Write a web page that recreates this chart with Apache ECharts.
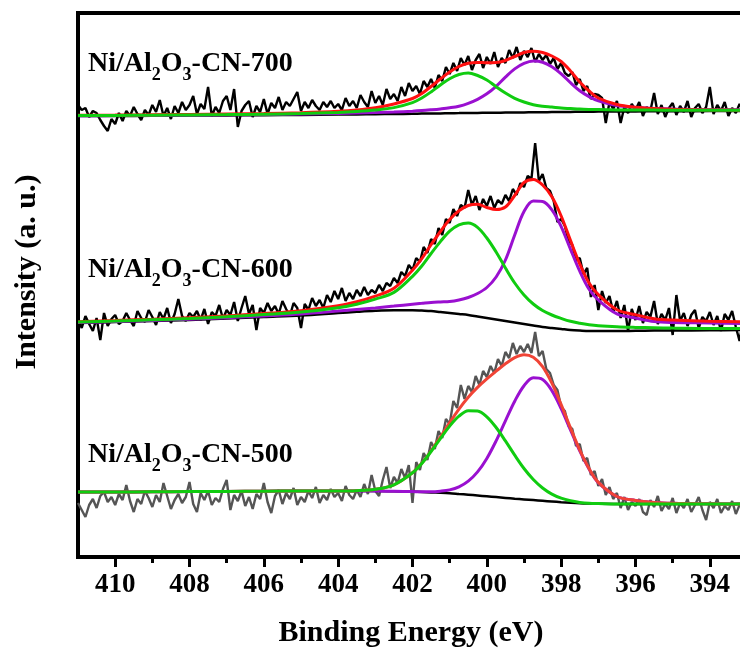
<!DOCTYPE html>
<html><head><meta charset="utf-8">
<script src="https://cdn.jsdelivr.net/npm/echarts@6/dist/echarts.min.js"></script>
<style>html,body{margin:0;padding:0;background:#fff}#c{width:740px;height:657px}</style>
</head><body><div id="c"></div>
<script>
// Binding energy grid of the measured spectra (eV)
const rawE = [411.0,410.9,410.8,410.7,410.6,410.5,410.4,410.3,410.2,410.1,410.0,
409.9,409.8,409.7,409.6,409.5,409.4,409.3,409.2,409.1,409.0,
408.9,408.8,408.7,408.6,408.5,408.4,408.3,408.2,408.1,408.0,
407.9,407.8,407.7,407.6,407.5,407.4,407.3,407.2,407.1,407.0,
406.9,406.8,406.7,406.6,406.5,406.4,406.3,406.2,406.1,406.0,
405.9,405.8,405.7,405.6,405.5,405.4,405.3,405.2,405.1,405.0,
404.9,404.8,404.7,404.6,404.5,404.4,404.3,404.2,404.1,404.0,
403.9,403.8,403.7,403.6,403.5,403.4,403.3,403.2,403.1,403.0,
402.9,402.8,402.7,402.6,402.5,402.4,402.3,402.2,402.1,402.0,
401.9,401.8,401.7,401.6,401.5,401.4,401.3,401.2,401.1,401.0,
400.9,400.8,400.7,400.6,400.5,400.4,400.3,400.2,400.1,400.0,
399.9,399.8,399.7,399.6,399.5,399.4,399.3,399.2,399.1,399.0,
398.9,398.8,398.7,398.6,398.5,398.4,398.3,398.2,398.1,398.0,
397.9,397.8,397.7,397.6,397.5,397.4,397.3,397.2,397.1,397.0,
396.9,396.8,396.7,396.6,396.5,396.4,396.3,396.2,396.1,396.0,
395.9,395.8,395.7,395.6,395.5,395.4,395.3,395.2,395.1,395.0,
394.9,394.8,394.7,394.6,394.5,394.4,394.3,394.2,394.1,394.0,
393.9,393.8,393.7,393.6,393.5,393.4,393.3,393.2,393.1,393.0];

// Measured intensities (stacked, arbitrary units)
const raw700 = [452,447,449,440,446,444,437,431,426,438,433,
444,436,446,441,450,443,437,447,442,452,
445,457,441,449,438,451,444,455,447,452,
461,443,453,448,470,441,450,444,456,461,
447,468,430,446,452,456,440,451,445,458,
443,454,449,460,447,455,451,458,465,446,
455,449,457,451,447,455,450,456,449,453,
447,459,451,456,449,462,455,450,466,454,
461,452,468,458,463,456,470,461,474,466,
471,463,476,470,478,469,482,476,490,483,
494,486,499,492,501,487,497,503,489,500,
493,505,490,499,494,507,499,510,497,506,
500,509,495,503,497,502,493,499,488,494,
484,481,485,472,478,466,471,458,463,462,
459,434,455,448,456,434,450,444,453,447,
455,441,450,446,464,443,452,440,449,454,
442,451,445,456,440,449,453,444,450,470,
443,452,446,455,441,449,444,453,447,450];

const raw600 = [238,229,241,233,226,239,217,244,231,238,242,
233,236,244,237,231,246,239,235,247,240,
232,245,238,249,234,243,258,241,236,244,
240,246,237,248,233,245,241,252,238,247,
242,255,236,249,261,243,252,227,249,244,
254,246,251,243,256,248,241,254,249,229,
253,247,259,251,257,249,262,255,266,258,
269,256,264,258,267,261,270,262,267,264,
272,266,274,271,279,274,285,281,292,287,
299,295,310,304,318,313,329,322,338,334,
348,341,352,349,367,352,361,347,358,351,
361,349,357,353,362,356,368,362,374,370,
381,378,414,376,383,369,366,356,335,338,
331,316,312,297,299,283,289,260,272,247,
266,254,261,245,256,239,252,226,248,237,
251,234,245,240,256,233,243,237,249,222,
262,236,244,231,242,247,229,240,236,245,
232,241,226,243,237,246,230,216,239,235];

const raw500 = [54,47,40,52,58,49,61,65,55,60,52,
63,57,72,56,45,58,53,66,59,50,
62,55,74,61,48,57,63,54,60,75,
53,45,64,57,66,52,59,55,68,77,
47,62,56,66,51,60,48,63,58,74,
55,44,61,67,53,64,58,69,52,60,
55,66,59,70,54,62,57,68,60,64,
56,71,62,58,67,60,73,63,82,66,
61,77,90,69,80,74,88,79,92,54,
95,87,104,97,115,108,126,119,138,133,
156,149,172,158,171,165,181,172,186,180,
191,184,198,191,205,199,214,203,211,205,
213,204,225,201,206,188,184,172,167,150,
146,131,128,111,113,96,99,82,86,71,
78,62,70,58,64,49,60,47,55,51,
58,45,42,57,50,61,46,53,48,59,
44,54,49,58,45,52,60,47,37,55,
49,58,44,51,47,56,43,52,48,54];

// Fitted curves, sampled on this energy grid (eV)
const fitE = [411,410,409,408,407,406,405,404,403.5,403,402.5,402,401.75,401.5,401.25,401,
400.75,400.5,400.25,400,399.75,399.5,399.25,399,398.75,398.5,398.25,398,397.75,397.5,397.25,397,
396.5,396,395.5,395,394,393];

const bg700 = [441,441,441.2,441.4,441.6,441.8,442,442.4,442.6,442.8,443,443.2,443.4,443.5,443.6,443.8,
443.9,444,444.1,444.2,444.3,444.4,444.5,444.6,444.7,444.8,444.9,445,445.1,445.2,445.3,445.4,
445.5,445.6,445.7,445.8,445.9,446];
const green700 = [441.4,441.5,441.8,442.1,442.4,442.8,443.4,444.5,445.5,447,449.4,454.4,459,465.1,472,478.2,
482.5,484,481.5,477,470.3,464,458.7,455,452.3,450.8,449.9,448.9,448.4,447.9,447.6,447.4,
447.1,447,446.9,446.8,446.7,446.7];
const purple700 = [441.3,441.4,441.6,441.9,442.2,442.5,442.9,443.6,444,444.4,445,445.8,446.4,447.2,448.1,449.2,
450.8,453.7,457.7,463.2,470.7,479.8,488.1,493.6,496,494.8,490.3,483.2,474.3,466.2,460.4,456.2,
451.4,449.6,448.5,447.9,447.3,447.1];
const sum700 = [441.7,441.9,442.2,442.6,443,443.5,444.3,445.7,447,449.2,453,458.5,463.5,470.5,478,485,
490.5,493.8,494.6,494.2,494.4,496.5,500.5,504.5,505.8,504.5,501,495.5,486,475,466,459,
452.5,449.7,448.4,447.7,447.1,446.8];

const bg600 = [234,235,236,237,238.5,240,241.5,244,245.2,246.2,246.7,246.7,246.4,246,245,244,
243,242,240.5,239,237.5,236,234.5,233,231.5,230,229,228,227,226.4,226,226,
226,226.2,226.4,226.5,226.7,227];
const green600 = [234.9,236,237.2,238.5,240.2,242.4,244.9,249.3,252.8,257.9,264.6,280.7,291,303.5,315.4,325.9,
332.2,334,329.7,319,305,289,274,262,253,246.5,242,238.6,235.7,233.8,232.3,231.3,
230.2,229.6,229.2,228.9,228.5,228.5];
const purple600 = [234.4,235.5,236.6,237.8,239.3,241,242.9,245.9,247.6,249.1,250.9,252.8,253.7,254.6,255.1,255.5,
257,259.5,263.5,269.5,280,297,322,345.5,356,355.5,347.2,330.4,307.9,285.8,267.7,257,
243.1,239,235.5,234.5,234,233.5];
const sum600 = [235.3,236.5,237.8,239.3,241,243.4,246.3,251.2,255.2,260.8,268.7,286.8,298.3,312.3,325.5,337.4,
346.2,351.5,352.7,349.5,347.5,350,361.5,374.5,377.5,372,360.2,341,316.6,293.2,274,262.3,
247.3,242.4,238.3,236.9,235.8,235];

const bg500 = [65,65,65.2,65.4,65.6,65.8,66,66,66,66,65.7,65.3,65,64.6,64.2,63.7,
63,62.3,61.5,60.7,59.9,59.1,58.3,57.6,56.9,56.2,55.5,54.8,54.2,53.7,53.4,53.2,
53,53,53,53,53,53];
const green500 = [65,65,65.2,65.4,65.6,65.8,66,66,66.3,67.7,72.2,84.2,93.6,105.5,118.4,130.9,
140.8,146.3,146,140.2,129.5,116.1,101.8,88.5,77.5,69,62.9,58.8,56.2,54.6,53.7,53.4,
53,53,53,53,53,53];
const purple500 = [65,65,65.2,65.4,65.6,65.8,66,66,66,66,65.7,65.4,65.2,65.2,65.8,67.1,
70.1,75.8,85.1,98.6,116.2,136.2,155.8,171.3,179.2,177.5,166.4,148.4,127.1,106.1,88.1,74.4,
60.5,56.5,54.5,53.7,53.2,53];
const sum500 = [65,65,65.2,65.4,65.6,65.8,66,66,66.3,67.7,72.2,84.3,93.8,106.1,120,134.3,
147.9,159.8,169.6,178.1,185.8,193.2,199.3,202.2,199.8,190.3,173.8,152.4,129.1,107,88.4,74.6,
60.5,56.5,54.5,53.7,53.2,53];

// Axis ticks and sample labels
const majorTicks = [394,396,398,400,402,404,406,408,410];
const minorTicks = [395,397,399,401,403,405,407,409];
const sampleNames = ['700','600','500'];

const FONT = '"Liberation Serif","Times New Roman",serif';
function pairs(xs, ys){ return xs.map((x,i)=>[x, ys[i]]); }
function mk(name, xs, ys, color, width, smooth){
  return {name, type:'line', data:pairs(xs, ys), symbol:'none', showSymbol:false,
    smooth: smooth ? 0.35 : false, animation:false, silent:true,
    lineStyle:{color, width}, itemStyle:{color}};
}
const GREEN = '#10cc10', PURPLE = '#9a10d0', RED = '#ff1010';
const series = [
  mk('raw700', rawE, raw700, '#000', 2.4, false),
  mk('bg700', fitE, bg700, '#000', 2.5, true),
  mk('p700', fitE, purple700, PURPLE, 3, true),
  mk('s700', fitE, sum700, RED, 3, true),
  mk('g700', fitE, green700, GREEN, 3, true),
  mk('raw600', rawE, raw600, '#000', 2.4, false),
  mk('bg600', fitE, bg600, '#000', 2.5, true),
  mk('p600', fitE, purple600, PURPLE, 3, true),
  mk('s600', fitE, sum600, RED, 3, true),
  mk('g600', fitE, green600, GREEN, 3, true),
  mk('raw500', rawE, raw500, '#555', 2.4, false),
  mk('bg500', fitE, bg500, '#000', 2.5, true),
  mk('p500', fitE, purple500, PURPLE, 3, true),
  mk('s500', fitE, sum500, '#f04436', 3, true),
  mk('g500', fitE, green500, GREEN, 3, true)
];

const mctx = document.createElement('canvas').getContext('2d');
function tw(font, s){ mctx.font = font; return mctx.measureText(s).width; }
function sampleLabel(x, yMid, num){
  const big = 'bold 28px ' + FONT, small = 'bold 18px ' + FONT;
  const parts = [['Ni/Al', big, 0], ['2', small, 11], ['O', big, 0], ['3', small, 11], ['-CN-' + num, big, 0]];
  let cx = x; const els = [];
  parts.forEach(([t, f, dy]) => {
    els.push({type:'text', x:cx, y:yMid + dy, z:100,
      style:{text:t, font:f, fill:'#000', align:'left', verticalAlign:'middle'}});
    cx += tw(f, t);
  });
  return els;
}
const labelY = [64, 270, 455];
let graphics = [];
sampleNames.forEach((n, i) => { graphics = graphics.concat(sampleLabel(88, labelY[i], n)); });
graphics.push({type:'text', x:27, y:272, rotation:Math.PI/2, z:100,
  style:{text:'Intensity (a. u.)', font:'bold 30px ' + FONT, fill:'#000', align:'center', verticalAlign:'middle'}});
graphics.push({type:'text', x:411, y:633, z:100,
  style:{text:'Binding Energy (eV)', font:'bold 30px ' + FONT, fill:'#000', align:'center', verticalAlign:'middle'}});

const chart = echarts.init(document.getElementById('c'), null, {renderer:'canvas'});
chart.setOption({
  animation:false,
  backgroundColor:'#fff',
  grid:{left:78, top:13, right:-7, bottom:100, show:true, borderColor:'#000', borderWidth:4,
    backgroundColor:'transparent', containLabel:false, outerBoundsMode:'none'},
  xAxis:[{
    type:'value', min:393, max:411, inverse:true, interval:1, position:'bottom',
    axisLine:{show:true, lineStyle:{color:'#000', width:4}},
    axisTick:{show:true, customValues:majorTicks, length:10, lineStyle:{color:'#000', width:3}},
    axisLabel:{show:true, customValues:majorTicks, color:'#000', fontFamily:FONT, fontWeight:'bold', fontSize:27, margin:15},
    splitLine:{show:false}
  },{
    type:'value', min:393, max:411, inverse:true, interval:1, position:'bottom',
    axisLine:{show:false}, axisLabel:{show:false}, splitLine:{show:false},
    axisTick:{show:true, customValues:minorTicks, length:6, lineStyle:{color:'#000', width:3}}
  }],
  yAxis:{type:'value', min:0, max:544, axisLine:{show:false}, axisTick:{show:false}, axisLabel:{show:false}, splitLine:{show:false}},
  series: series,
  graphic: graphics
});
</script></body></html>
